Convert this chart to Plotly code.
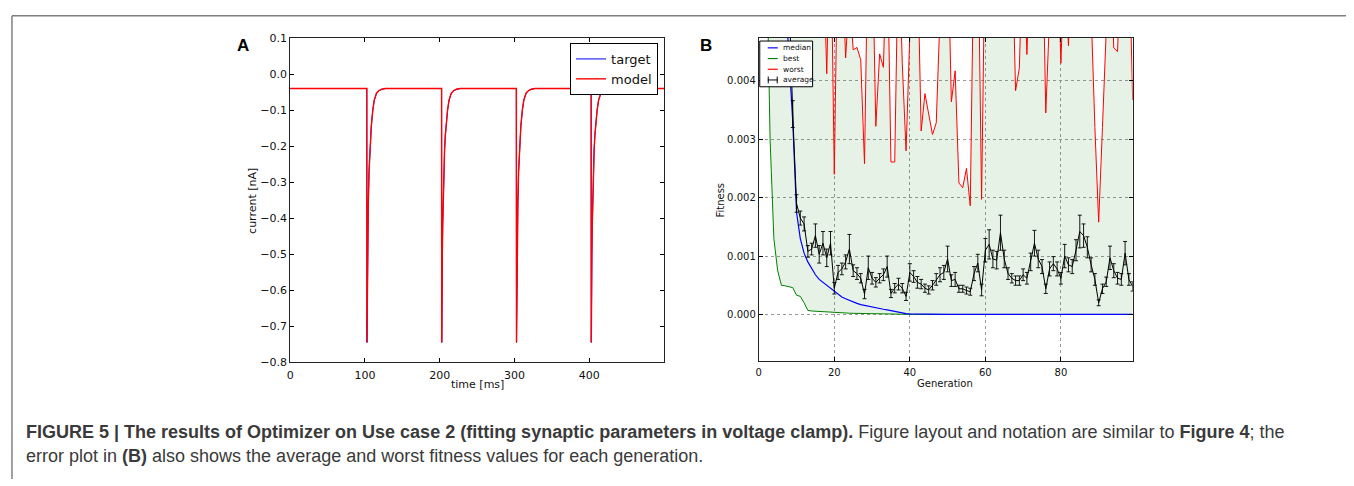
import plotly.graph_objects as go
import numpy as np

W, H = 1354, 486

# ---------------- Panel A data (current trace, voltage clamp) ----------------
pulse_onsets = [102.5, 202.5, 302.5, 402.5]          # ms
pulse_dt = [0.0, 0.2, 0.5, 1.0, 1.5, 2.0, 3.0, 4.0, 5.0, 6.0, 8.0, 10.0, 13.0, 16.0, 20.0, 25.0]
pulse_current = [-0.04, -0.745, -0.65, -0.50, -0.42, -0.36, -0.27, -0.21, -0.17, -0.145,
                 -0.10, -0.072, -0.053, -0.046, -0.042, -0.040]
baseline_current = -0.04
t_start, t_end = 0.0, 500.0

time_ms = [t_start]
current_nA = [baseline_current]
for onset in pulse_onsets:
    for dt, cur in zip(pulse_dt, pulse_current):
        time_ms.append(onset + dt)
        current_nA.append(cur)
time_ms.append(t_end)
current_nA.append(baseline_current)

a_xticks = [0, 100, 200, 300, 400]
a_yticks = [0.1, 0.0, -0.1, -0.2, -0.3, -0.4, -0.5, -0.6, -0.7, -0.8]

# ---------------- Panel B data (fitness per generation, x 1e-3) ----------------
generations = list(range(100))
best_e3 = [14, 9, 6.5, 3.0, 1.3, 0.75, 0.50, 0.49, 0.48, 0.46,
           0.33, 0.31, 0.20, 0.07, 0.06, 0.055, 0.05, 0.047, 0.044, 0.04,
           0.036, 0.032, 0.028, 0.025, 0.022, 0.02, 0.018, 0.016, 0.014, 0.012,
           0.011, 0.01, 0.009, 0.008, 0.007, 0.006, 0.005, 0.004, 0.003, 0.002,
           0.002, 0.0015, 0.0015, 0.001, 0.001, 0.001, 0.001, 0.001, 0.001, 0.001,
           0.001, 0.001, 0.001, 0.001, 0.001, 0.001, 0.001, 0.001, 0.001, 0.001,
           0.0005, 0.0005, 0.0005, 0.0005, 0.0005, 0.0005, 0.0005, 0.0005, 0.0005, 0.0005,
           0.0005, 0.0005, 0.0005, 0.0005, 0.0005, 0.0005, 0.0005, 0.0005, 0.0005, 0.0005,
           0.0005, 0.0005, 0.0005, 0.0005, 0.0005, 0.0005, 0.0005, 0.0005, 0.0005, 0.0005,
           0.0005, 0.0005, 0.0005, 0.0005, 0.0005, 0.0005, 0.0005, 0.0005, 0.0005, 0.0005]
median_e3 = [30, 22, 16, 12, 9.5, 7.8, 6.6, 5.6, 4.4, 3.3,
             1.75, 1.3, 1.05, 0.9, 0.78, 0.68, 0.6, 0.55, 0.5, 0.44,
             0.39, 0.34, 0.30, 0.27, 0.24, 0.21, 0.19, 0.17, 0.155, 0.14,
             0.125, 0.11, 0.10, 0.09, 0.08, 0.065, 0.05, 0.035, 0.025, 0.015,
             0.01, 0.008, 0.006, 0.005, 0.004, 0.003, 0.002, 0.002, 0.002, 0.002,
             0.002, 0.002, 0.002, 0.002, 0.002, 0.002, 0.002, 0.002, 0.002, 0.002,
             0.001, 0.001, 0.001, 0.001, 0.001, 0.001, 0.001, 0.001, 0.001, 0.001,
             0.001, 0.001, 0.001, 0.001, 0.001, 0.001, 0.001, 0.001, 0.001, 0.001,
             0.001, 0.001, 0.001, 0.001, 0.001, 0.001, 0.001, 0.001, 0.001, 0.001,
             0.001, 0.001, 0.001, 0.001, 0.001, 0.001, 0.001, 0.001, 0.001, 0.001]
worst_e3 = [14, 12, 10, 9, 8.5, 8, 7.5, 7.2, 7, 6.8,
            7.2, 6.5, 7, 6.6, 7, 6.4, 6.8, 6.5, 4.12, 7.0,
            2.4, 6.8, 6.2, 4.39, 5.5, 4.53, 4.57, 4.36, 2.58, 6.8,
            6.5, 3.22, 4.46, 4.23, 6.5, 2.61, 2.61, 6.5, 4.3, 2.8,
            6.5, 6.8, 6.2, 3.14, 3.78, 3.43, 3.08, 3.28, 6.5, 7.0,
            6.5, 3.64, 4.17, 2.25, 2.17, 2.5, 1.86, 6.5, 6.8, 1.97,
            6.8, 6.5, 7.0, 6.6, 6.8, 6.4, 6.9, 6.5, 3.83, 4.22,
            6.5, 4.45, 6.4, 6.8, 6.5, 6.9, 3.45, 6.6, 6.8, 6.5,
            4.3, 6.2, 4.6, 6.5, 6.8, 6.4, 6.9, 6.5, 5.2, 3.2,
            1.58, 3.2, 5.2, 6.5, 4.56, 4.5, 6.5, 6.8, 6.4, 3.67]
average_e3 = [30, 22, 16, 12, 10, 8, 7, 6.2, 5.5, 3.43,
              1.90, 1.65, 1.55, 1.08, 1.12, 1.35, 1.03, 1.22, 0.97, 1.22,
              0.45, 0.72, 0.78, 0.90, 1.12, 0.75, 0.70, 0.62, 0.35, 0.80,
              0.62, 0.55, 0.62, 0.68, 0.82, 0.36, 0.45, 0.52, 0.45, 0.31,
              0.72, 0.65, 0.55, 0.52, 0.45, 0.42, 0.50, 0.60, 0.68, 0.72,
              0.95, 0.58, 0.60, 0.44, 0.44, 0.41, 0.39, 0.70, 0.88, 0.42,
              1.10, 1.20, 0.95, 0.93, 1.40, 0.95, 0.70, 0.62, 0.58, 0.58,
              0.68, 0.62, 0.90, 1.22, 0.95, 0.82, 0.44, 0.78, 0.87, 0.78,
              0.62, 1.00, 0.85, 0.82, 1.10, 1.42, 1.35, 1.15, 0.85, 0.60,
              0.20, 0.44, 0.56, 0.97, 0.75, 0.62, 0.60, 1.05, 0.60, 0.48]
average_err_e3 = [0.5, 0.5, 0.5, 0.5, 0.5, 0.5, 0.5, 0.5, 0.5, 0.23,
                  0.15, 0.12, 0.12, 0.10, 0.10, 0.20, 0.15, 0.20, 0.15, 0.20,
                  0.10, 0.12, 0.10, 0.12, 0.25, 0.10, 0.10, 0.08, 0.08, 0.20,
                  0.10, 0.08, 0.08, 0.10, 0.18, 0.07, 0.08, 0.10, 0.08, 0.07,
                  0.15, 0.10, 0.10, 0.08, 0.07, 0.07, 0.08, 0.10, 0.12, 0.12,
                  0.22, 0.10, 0.12, 0.06, 0.06, 0.06, 0.06, 0.12, 0.15, 0.10,
                  0.20, 0.25, 0.15, 0.15, 0.30, 0.15, 0.10, 0.08, 0.08, 0.08,
                  0.10, 0.10, 0.15, 0.22, 0.15, 0.12, 0.08, 0.12, 0.12, 0.12,
                  0.10, 0.20, 0.12, 0.12, 0.18, 0.28, 0.20, 0.18, 0.12, 0.10,
                  0.05, 0.08, 0.08, 0.20, 0.12, 0.10, 0.10, 0.20, 0.10, 0.08]
UNIT = 1e-3
best = np.array(best_e3) * UNIT
median = np.array(median_e3) * UNIT
worst = np.array(worst_e3) * UNIT
average = np.array(average_e3) * UNIT
average_err = np.array(average_err_e3) * UNIT

b_xticks = [0, 20, 40, 60, 80]
b_yticks = [0.0, 0.001, 0.002, 0.003, 0.004]

legend_b_labels = ["median", "best", "worst", "average"]
legend_b_colors = ["#0000ff", "#008000", "#ff0000", "#000000"]

caption_line1 = ("<b>FIGURE 5 | The results of Optimizer on Use case 2 (fitting synaptic parameters in "
                 "voltage clamp).</b> Figure layout and notation are similar to <b>Figure 4</b>; the")
caption_line2 = "error plot in <b>(B)</b> also shows the average and worst fitness values for each generation."

# ---------------- helpers ----------------
def fx(px):
    return px / W


def fy(py):
    return 1 - py / H


MPL_FONT = "DejaVu Sans"

fig = go.Figure()

# Panel A traces
fig.add_trace(go.Scatter(x=time_ms, y=current_nA, mode="lines", name="target",
                         line=dict(color="#0000ff", width=1.0), xaxis="x", yaxis="y",
                         legend="legend"))
fig.add_trace(go.Scatter(x=time_ms, y=current_nA, mode="lines", name="model",
                         line=dict(color="#ff0000", width=1.4), xaxis="x", yaxis="y",
                         legend="legend"))

# Panel B traces
fig.add_trace(go.Scatter(x=generations, y=best, mode="lines", name="best",
                         line=dict(color="#008000", width=1), xaxis="x2", yaxis="y2",
                         showlegend=False))
fig.add_trace(go.Scatter(x=generations, y=worst, mode="lines", name="worst",
                         line=dict(color="#ff0000", width=1), fill="tonexty",
                         fillcolor="rgba(0,128,0,0.10)", xaxis="x2", yaxis="y2",
                         showlegend=False))
fig.add_trace(go.Scatter(x=generations, y=median, mode="lines", name="median",
                         line=dict(color="#0000ff", width=1.2), xaxis="x2", yaxis="y2",
                         showlegend=False))
fig.add_trace(go.Scatter(x=generations, y=average, mode="lines", name="average",
                         line=dict(color="#000000", width=1),
                         error_y=dict(type="data", array=average_err, color="#000000",
                                      thickness=0.9, width=2),
                         xaxis="x2", yaxis="y2", showlegend=False))

axis_common = dict(ticks="inside", ticklen=4, tickwidth=1, tickcolor="#000",
                   showline=True, linecolor="#222", linewidth=1, mirror="allticks",
                   zeroline=False, color="#111")

fig.update_layout(
    width=W, height=H,
    margin=dict(l=0, r=0, t=0, b=0),
    paper_bgcolor="white", plot_bgcolor="white",
    font=dict(family=MPL_FONT, color="#111"),
    xaxis=dict(domain=[fx(287), fx(662)], anchor="y", range=[0, 500],
               tickvals=a_xticks, showgrid=False, ticklabelstandoff=3,
               tickfont=dict(size=11, family=MPL_FONT), **axis_common),
    yaxis=dict(domain=[fy(366), fy(33)], anchor="x", range=[-0.8, 0.1],
               tickvals=a_yticks, tickformat=".1f", showgrid=False,
               tickfont=dict(size=11, family=MPL_FONT), **axis_common),
    xaxis2=dict(domain=[fx(757), fx(1132)], anchor="y2", range=[0, 99],
                tickvals=b_xticks, showgrid=True, gridcolor="#9a9a9a",
                griddash="dot", gridwidth=1, ticklabelstandoff=2,
                tickfont=dict(size=10, family=MPL_FONT), **axis_common),
    yaxis2=dict(domain=[fy(365), fy(33)], anchor="x2", range=[-0.0008, 0.00473],
                tickvals=b_yticks, tickformat=".3f", showgrid=True,
                gridcolor="#9a9a9a", griddash="dot", gridwidth=1,
                tickfont=dict(size=10, family=MPL_FONT), **axis_common),
    legend=dict(x=fx(656), xanchor="right", y=fy(38), yanchor="top",
                bordercolor="#000", borderwidth=1, bgcolor="white",
                font=dict(size=13, family=MPL_FONT, color="#111"),
                itemwidth=30, tracegroupgap=0, traceorder="normal"),
    showlegend=True,
)


def txt(text, px, py, size, family=MPL_FONT, color="#111", angle=0, xanchor="center"):
    return dict(text=text, x=fx(px), y=fy(py), xref="paper", yref="paper",
                xanchor=xanchor, yanchor="middle", showarrow=False, textangle=angle,
                font=dict(size=size, family=family, color=color))


annotations = [
    txt("time [ms]", 475, 389, 11),
    txt("current [nA]", 249, 200, 11, angle=-90),
    txt("Generation", 944, 388, 10),
    txt("Fitness", 719, 199, 10, angle=-90),
    txt("<b>A</b>", 240, 41, 17, family="Liberation Sans", color="#000"),
    txt("<b>B</b>", 704, 41, 17, family="Liberation Sans", color="#000"),
    txt(caption_line1, 20, 438, 18, family="Liberation Sans", color="#3a3a3a", xanchor="left"),
    txt(caption_line2, 20, 462, 18, family="Liberation Sans", color="#3a3a3a", xanchor="left"),
]

shapes = []
# outer frame (top and left rule)
shapes.append(dict(type="line", xref="paper", yref="paper", x0=fx(8), x1=fx(1346), y0=fy(10), y1=fy(10),
                   line=dict(color="#808080", width=1.5)))
shapes.append(dict(type="line", xref="paper", yref="paper", x0=fx(8), x1=fx(8), y0=fy(10), y1=0,
                   line=dict(color="#808080", width=1.5)))

# manual small legend for panel B
lb_x0, lb_x1, lb_y0, lb_y1 = 758, 811, 36, 83
shapes.append(dict(type="rect", xref="paper", yref="paper", x0=fx(lb_x0), x1=fx(lb_x1),
                   y0=fy(lb_y1), y1=fy(lb_y0), line=dict(color="#000", width=1),
                   fillcolor="white", layer="above"))
entry_y = [43, 54, 65, 76]
for lab, col, ey in zip(legend_b_labels, legend_b_colors, entry_y):
    if lab == "average":
        shapes.append(dict(type="line", xref="paper", yref="paper", x0=fx(766), x1=fx(776),
                           y0=fy(ey), y1=fy(ey), line=dict(color=col, width=1), layer="above"))
        for cx in (766.5, 775.5):
            shapes.append(dict(type="line", xref="paper", yref="paper", x0=fx(cx), x1=fx(cx),
                               y0=fy(ey - 3.5), y1=fy(ey + 3.5), line=dict(color=col, width=1),
                               layer="above"))
    else:
        shapes.append(dict(type="line", xref="paper", yref="paper", x0=fx(766), x1=fx(776),
                           y0=fy(ey), y1=fy(ey), line=dict(color=col, width=1.2), layer="above"))
    annotations.append(txt(lab, 779.5, ey, 7.5, xanchor="left"))

fig.update_layout(annotations=annotations, shapes=shapes)

fig.write_html("out.html")
